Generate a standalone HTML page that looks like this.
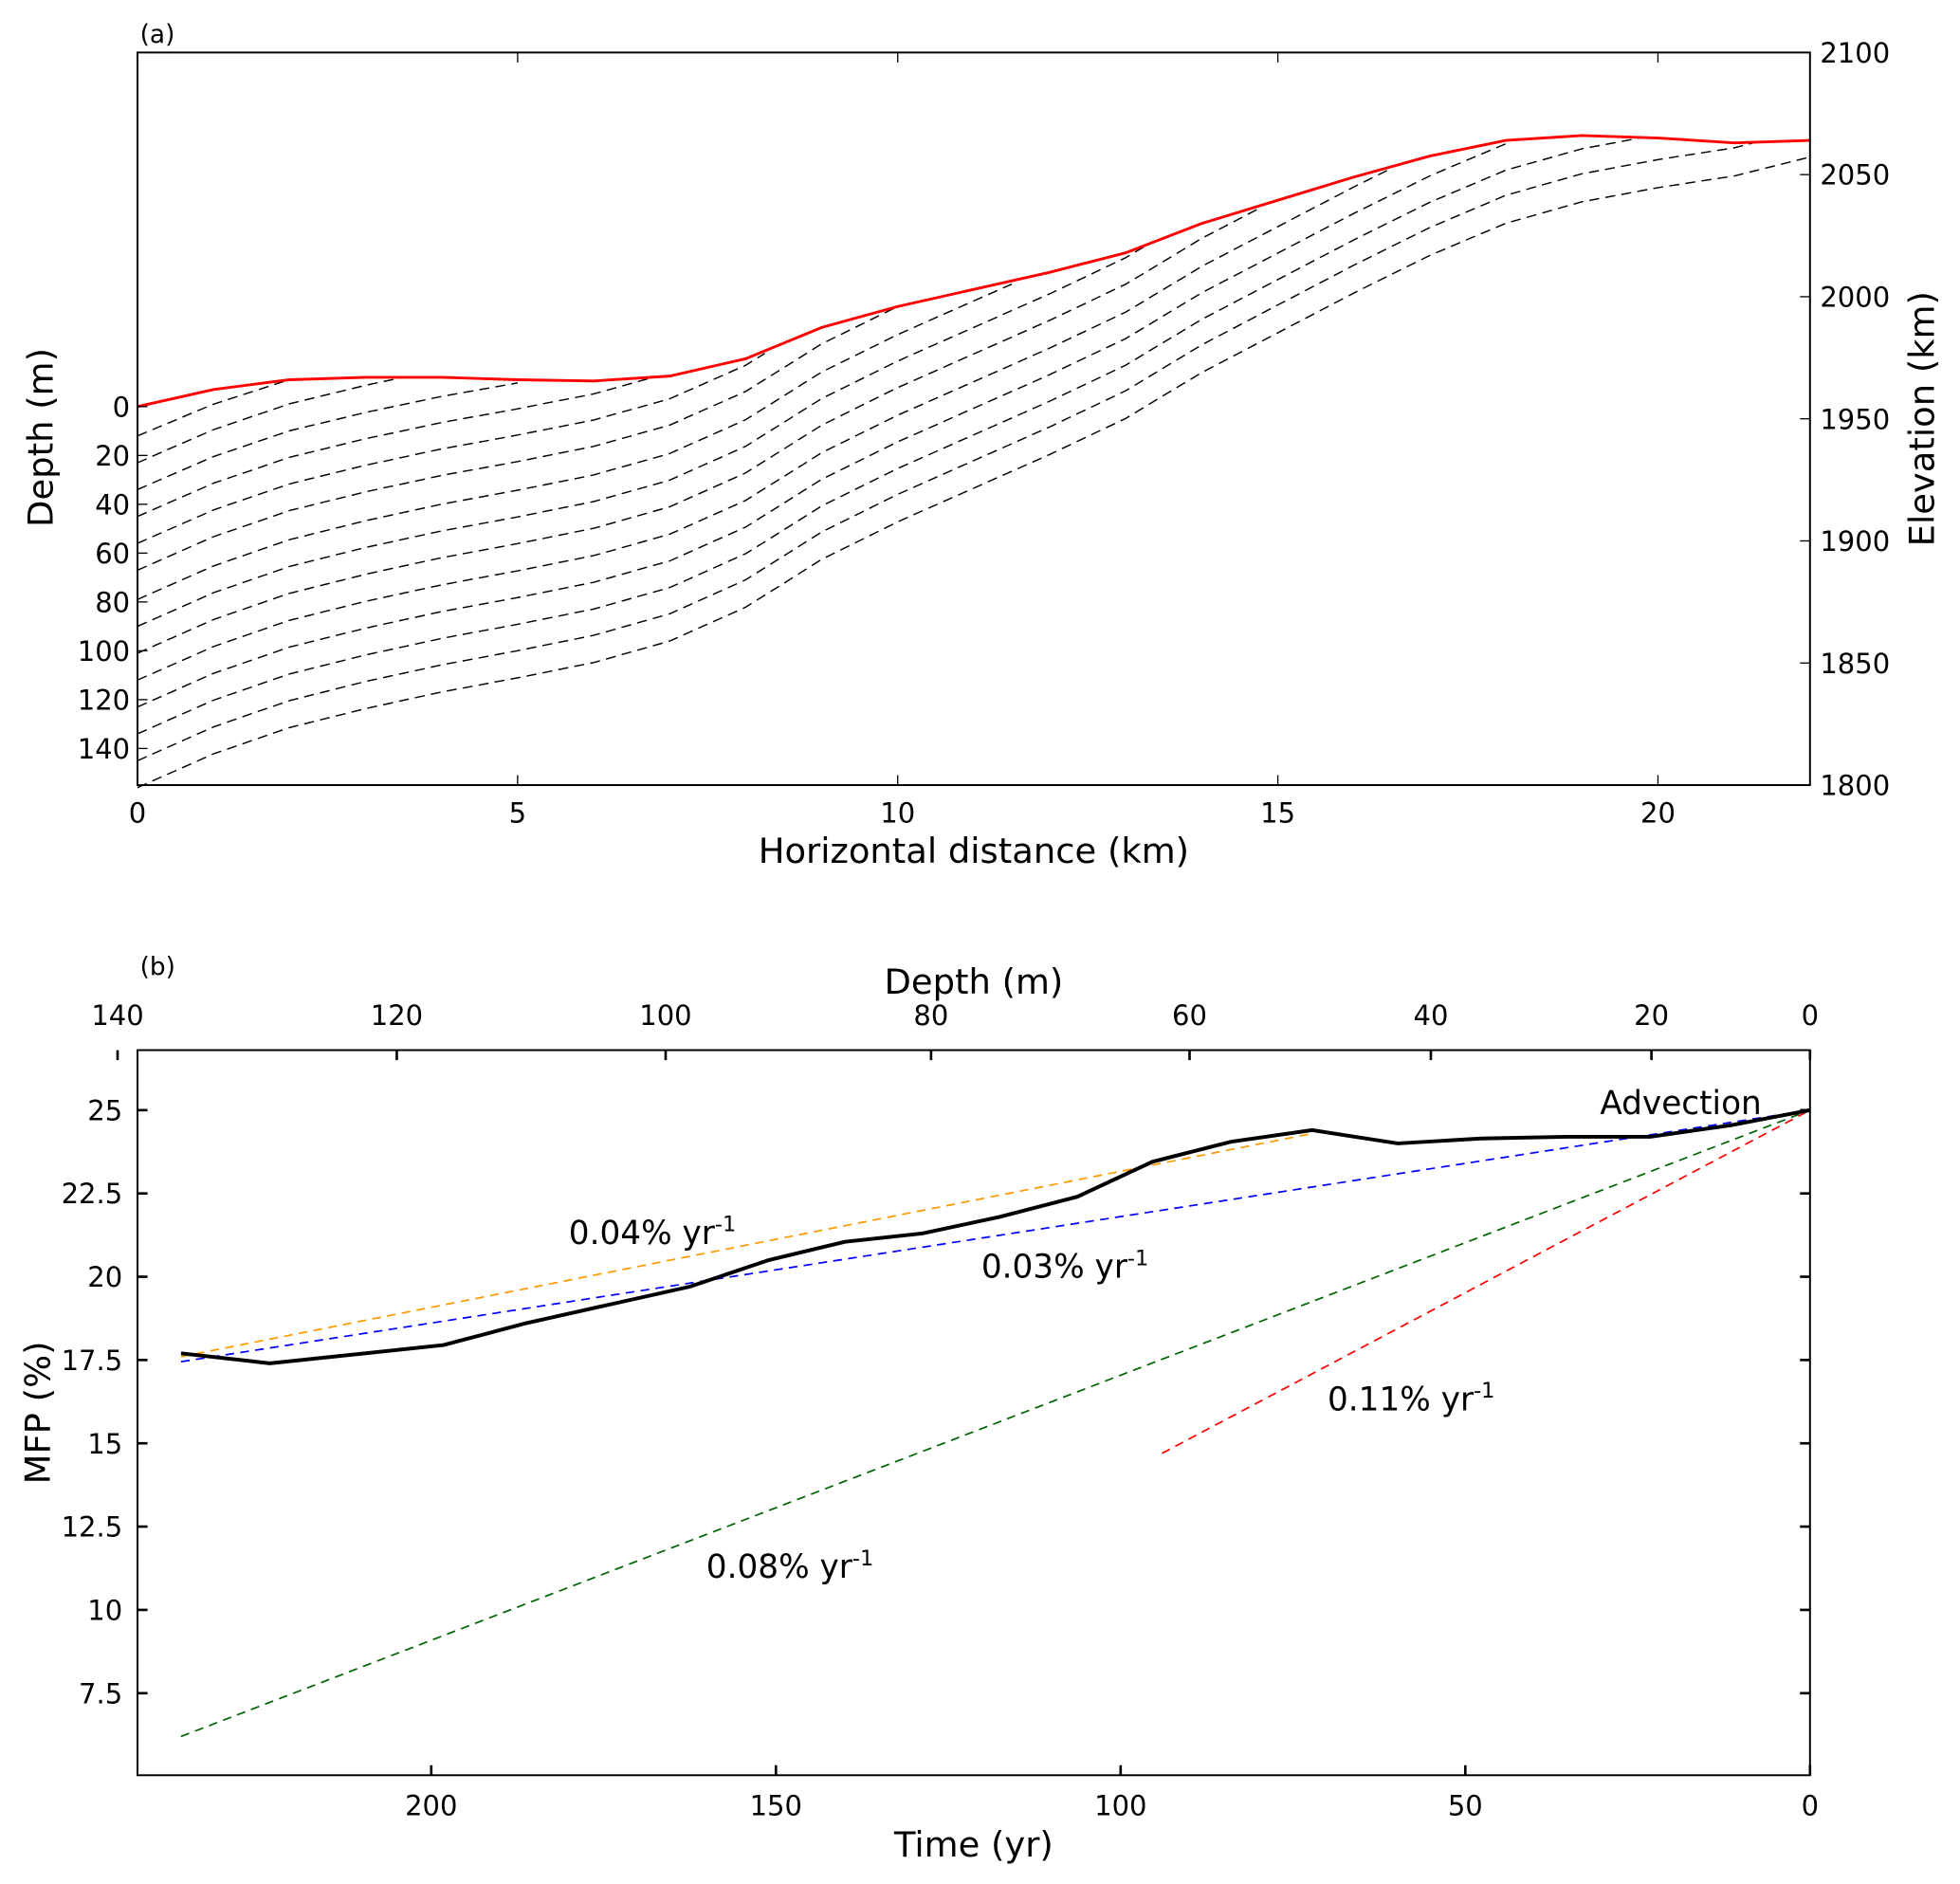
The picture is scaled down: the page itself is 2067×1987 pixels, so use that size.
<!DOCTYPE html>
<html><head><meta charset="utf-8"><style>
html,body{margin:0;padding:0;background:#fff}
svg{display:block;font-family:"DejaVu Sans","Liberation Sans",sans-serif}
</style></head><body>
<svg id="fig" width="2067" height="1987" viewBox="0 0 1568 1507" preserveAspectRatio="none" xmlns="http://www.w3.org/2000/svg">
<g id="pa"></g>
<g id="pb"></g>
</svg>
<script>
// ---- Panel (a) data ----
const surfKm = [0,1,2,3,4,5,6,7,8,9,10,11,12,13,14,15,16,17,18,19,20,21,22];
const surfElev = [1955,1962,1966,1967,1967,1966,1965.5,1967.5,1974.6,1987.4,1996,2003,2010,2018,2030,2039.5,2049,2057.6,2064,2066,2065,2063,2064];
const layerDepth0 = [12,23,34,45,56,67,79,90,101,112,123,134,145,156];
const layerEndKm = [2,3.5,5.2,6.8,8.4,10,11.7,13.3,14.9,16.6,18.2,19.8,21.3,23];
const depthTicks = [0,20,40,60,80,100,120,140];
const elevTicks = [1800,1850,1900,1950,2000,2050,2100];
const kmTicks = [0,5,10,15,20];
// ---- Panel (b) data ----
const timeYr = [236.3,223.4,198.2,186.4,175.5,162.5,151,140,128.7,117.5,106.3,95.4,84,72.2,59.8,47.7,35.4,23.2,11.4,0];
const mfp = [17.7,17.4,17.95,18.6,19.1,19.7,20.5,21.05,21.3,21.8,22.4,23.45,24.05,24.4,24.0,24.15,24.2,24.2,24.55,25];
const orangeT = [236.3,72.2], orangeV = [17.6,24.3];
const blueT = [236.3,0], blueV = [17.45,25];
const greenT = [236.3,0], greenV = [6.2,25];
const redT = [94,0], redV = [14.7,25];
const timeTicks = [0,50,100,150,200];
const mfpTicks = [7.5,10,12.5,15,17.5,20,22.5,25];
const mfpTickLabels = ["7.5","10","12.5","15","17.5","20","22.5","25"];
const topDepthLabels = [140,120,100,80,60,40,20,0];
const topDepthTime = [245.5,205,166,127.5,90,55,23,0];

const NS="http://www.w3.org/2000/svg";
function mk(p,t,a){const e=document.createElementNS(NS,t);for(const k in a)e.setAttribute(k,a[k]);p.appendChild(e);return e;}
function txt(p,x,y,s,size,anchor,name,rot){const e=mk(p,'text',{x:x,y:y,'font-size':size,'text-anchor':anchor||'middle'});if(rot)e.setAttribute('transform',rot);e.textContent=s;


return e;}

// Panel a axes
const pa=document.getElementById('pa');
const aL=110,aR=1448,aT=42,aB=628;
const ax=k=>aL+(k/22)*(aR-aL);
const ay=e=>aB-(e-1800)/300*(aB-aT);
const depthY=d=>ay(surfElev[0]-d);
function surfAt(k){for(let i=0;i<surfKm.length-1;i++){if(k<=surfKm[i+1]){const f=(k-surfKm[i])/(surfKm[i+1]-surfKm[i]);return surfElev[i]+f*(surfElev[i+1]-surfElev[i]);}}return surfElev[surfElev.length-1];}
layerDepth0.forEach((d0,i)=>{
  const xe=layerEndKm[i];let pts=[];
  for(let k=0;k<=Math.min(xe,22)+1e-9;k+=0.25){const d=d0*(1-k/xe);pts.push(ax(k).toFixed(1)+','+ay(surfAt(k)-d).toFixed(1));}
  const l=mk(pa,'polyline',{points:pts.join(' '),fill:'none',stroke:'#000','stroke-width':1.1,'stroke-dasharray':'8,5'});
  
  
});
const sp=mk(pa,'polyline',{points:surfKm.map((k,i)=>ax(k)+','+ay(surfElev[i])).join(' '),fill:'none',stroke:'#ff0000','stroke-width':2.2});


const fa=mk(pa,'rect',{x:aL,y:aT,width:aR-aL,height:aB-aT,fill:'none',stroke:'#000','stroke-width':1.5});


kmTicks.forEach(k=>{const x=ax(k);mk(pa,'line',{x1:x,y1:aB,x2:x,y2:aB-8,stroke:'#000'});mk(pa,'line',{x1:x,y1:aT,x2:x,y2:aT+8,stroke:'#000'});txt(pa,x,aB+30,String(k),22,'middle','x-tick-label');});
depthTicks.forEach(d=>{const y=depthY(d);mk(pa,'line',{x1:aL,y1:y,x2:aL+8,y2:y,stroke:'#000'});txt(pa,aL-6,y+8,String(d),22,'end','depth-tick-label');});
elevTicks.forEach(e=>{const y=ay(e);mk(pa,'line',{x1:aR,y1:y,x2:aR-8,y2:y,stroke:'#000'});txt(pa,aR+8,y+8,String(e),22,'start','elevation-tick-label');});
txt(pa,779,690,'Horizontal  distance (km)',28,'middle','x-axis-title');
txt(pa,0,0,'Depth (m)',28,'middle','y-axis-title-depth','translate(42,350) rotate(-90)');
txt(pa,0,0,'Elevation (km)',28,'middle','y-axis-title-elevation','translate(1547,335) rotate(-90)');
txt(pa,112,34,'(a)',20,'start','panel-a-label');

// Panel b
const pb=document.getElementById('pb');
const bL=110,bR=1448,bT=840,bB=1420;
const bx=t=>bR-t*5.515;
const by=v=>888+(25-v)*26.65;
function line(T,V,color,w,dash,name){const l=mk(pb,'polyline',{points:T.map((t,i)=>bx(t).toFixed(1)+','+by(V[i]).toFixed(1)).join(' '),fill:'none',stroke:color,'stroke-width':w});if(dash)l.setAttribute('stroke-dasharray',dash);

}
line(greenT,greenV,'#006400',1.3,'7,5','trend-0.08');
line(redT,redV,'#ff0000',1.3,'7,5','trend-0.11');
line(orangeT,orangeV,'#ff9900',1.3,'7,5','trend-0.04');
line(blueT,blueV,'#0000ff',1.3,'7,5','trend-0.03');
line(timeYr,mfp,'#000',3,null,'mfp-line');
const fb=mk(pb,'rect',{x:bL,y:bT,width:bR-bL,height:bB-bT,fill:'none',stroke:'#000','stroke-width':1.5});


timeTicks.forEach(t=>{const x=bx(t);mk(pb,'line',{x1:x,y1:bB,x2:x,y2:bB-8,stroke:'#000','stroke-width':2});txt(pb,x,bB+32,String(t),22,'middle','time-tick-label');});
mfpTicks.forEach((v,i)=>{const y=by(v);mk(pb,'line',{x1:bL,y1:y,x2:bL+8,y2:y,stroke:'#000','stroke-width':2});mk(pb,'line',{x1:bR,y1:y,x2:bR-8,y2:y,stroke:'#000','stroke-width':2});txt(pb,bL-12,y+8,mfpTickLabels[i],22,'end','mfp-tick-label');});
topDepthLabels.forEach((d,i)=>{const x=bx(topDepthTime[i]);mk(pb,'line',{x1:x,y1:bT,x2:x,y2:bT+8,stroke:'#000','stroke-width':2});txt(pb,x,bT-20,String(d),22,'middle','top-depth-tick-label');});
txt(pb,779,1485,'Time (yr)',28,'middle','x-axis-title-time');
txt(pb,779,795,'Depth (m)',28,'middle','top-axis-title-depth');
txt(pb,0,0,'MFP (%)',28,'middle','y-axis-title-mfp','translate(40,1130) rotate(-90)');
txt(pb,112,780,'(b)',20,'start','panel-b-label');
function rate(x,y,s,name){const t=txt(pb,x,y,'',26,'start',name);t.textContent=s+' yr';const ts=mk(t,'tspan',{dy:-10,'font-size':17});ts.textContent='-1';}
rate(455,995,'0.04%','label-0.04');
rate(785,1022,'0.03%','label-0.03');
rate(1062,1128,'0.11%','label-0.11');
rate(565,1262,'0.08%','label-0.08');
txt(pb,1280,891,'Advection',26,'start','advection-label');
</script>
</body></html>
